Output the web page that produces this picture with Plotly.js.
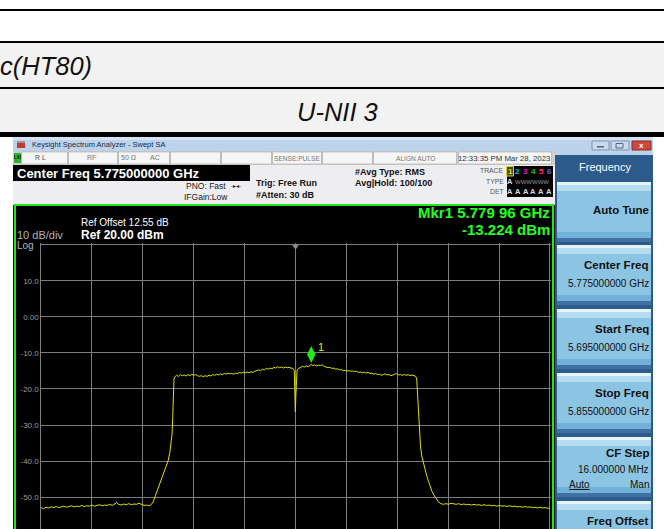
<!DOCTYPE html>
<html>
<head>
<meta charset="utf-8">
<script src="https://cdn.plot.ly/plotly-3.0.1.min.js"></script>
<style>html,body{margin:0;padding:0;background:#fff;}#chart{width:664px;height:529px;}</style>
</head>
<body>
<div id="chart"></div>
<script>
// ---------------- DATA ----------------
// trace samples: [frequency MHz, level dBm]
const traceSamples = [
[5695.0,-52.9],[5695.8,-53.2],[5696.6,-52.8],[5697.4,-53.0],[5698.2,-52.7],[5699.0,-52.9],[5699.8,-52.6],[5700.6,-52.9],
[5701.4,-52.7],[5702.2,-52.5],[5703.0,-52.8],[5703.8,-52.6],[5704.6,-52.4],[5705.4,-52.7],[5706.2,-52.5],[5707.0,-52.6],
[5707.8,-52.3],[5708.6,-52.6],[5709.4,-52.4],[5710.2,-52.5],[5711.0,-52.2],[5711.8,-52.5],[5712.6,-52.3],[5713.4,-52.1],
[5714.2,-52.4],[5715.0,-52.2],[5715.8,-52.3],[5716.6,-52.0],[5717.4,-52.3],[5718.2,-51.9],[5718.8,-51.5],[5719.4,-52.0],
[5720.2,-52.2],[5721.0,-51.9],[5721.8,-52.1],[5722.6,-51.8],[5723.4,-52.1],[5724.2,-51.9],[5725.0,-52.0],[5725.8,-51.7],
[5726.6,-52.1],[5727.4,-52.3],[5728.2,-52.2],[5729.0,-52.4],[5729.6,-52.1],
[5730.2,-51.4],[5730.8,-50.0],[5731.4,-48.6],[5732.0,-47.2],[5732.6,-45.8],[5733.2,-44.2],[5733.8,-42.6],[5734.4,-41.4],
[5735.0,-39.8],[5735.5,-37.6],[5735.9,-35.3],[5736.2,-32.5],[5736.4,-28.0],[5736.5,-24.0],[5736.6,-20.0],[5736.8,-17.2],[5737.1,-16.6],
[5737.6,-16.2],[5738.2,-16.5],[5738.8,-16.0],[5739.4,-16.3],[5740.0,-16.1],[5740.6,-16.4],[5741.2,-16.0],[5741.8,-16.3],
[5742.4,-15.9],[5743.0,-16.2],[5743.6,-16.0],[5744.2,-16.3],[5744.8,-16.5],[5745.4,-16.3],[5746.0,-16.6],[5746.6,-16.3],
[5747.2,-16.5],[5747.8,-16.2],[5748.4,-16.4],[5749.0,-16.0],[5749.6,-16.2],[5750.2,-15.9],[5750.8,-16.1],[5751.4,-15.8],
[5752.0,-16.0],[5752.6,-15.7],[5753.2,-15.9],[5753.8,-15.6],[5754.4,-15.8],[5755.0,-15.7],[5755.6,-15.9],[5756.2,-15.6],
[5756.8,-15.7],[5757.4,-15.4],[5758.0,-15.6],[5758.6,-15.3],[5759.2,-15.5],[5759.8,-15.3],[5760.4,-15.5],[5761.0,-15.2],
[5761.6,-15.4],[5762.2,-15.1],[5762.8,-15.0],[5763.4,-14.7],[5764.0,-14.9],[5764.6,-14.5],[5765.2,-14.7],[5765.8,-14.3],
[5766.4,-14.5],[5767.0,-14.2],[5767.6,-14.4],[5768.2,-14.0],[5768.8,-14.2],[5769.4,-13.8],[5770.0,-14.1],[5770.6,-13.9],
[5771.2,-14.2],[5771.8,-13.9],[5772.4,-14.1],[5773.0,-14.0],[5773.6,-14.2],[5774.2,-14.3],[5774.6,-14.8],[5774.8,-19.0],
[5774.95,-26.3],[5775.1,-22.0],[5775.25,-16.0],[5775.5,-14.7],
[5776.0,-14.3],[5776.6,-14.0],[5777.2,-13.7],[5777.8,-13.9],[5778.4,-13.6],[5779.0,-13.8],[5779.5,-13.4],[5779.96,-13.2],
[5780.5,-13.5],[5781.0,-13.3],[5781.6,-13.6],[5782.2,-13.4],[5782.8,-13.5],[5783.4,-13.3],[5784.0,-13.7],[5784.6,-13.9],
[5785.2,-14.1],[5785.8,-14.0],[5786.4,-14.3],[5787.0,-14.2],[5787.6,-14.5],[5788.2,-14.4],[5788.8,-14.7],[5789.4,-14.6],
[5790.0,-14.9],[5790.6,-14.8],[5791.2,-15.0],[5791.8,-14.9],[5792.4,-15.1],[5793.0,-15.0],[5793.6,-15.2],[5794.2,-15.1],
[5794.8,-15.4],[5795.4,-15.3],[5796.0,-15.5],[5796.6,-15.3],[5797.2,-15.6],[5797.8,-15.4],[5798.4,-15.7],[5799.0,-15.6],
[5799.6,-15.9],[5800.2,-15.7],[5800.8,-16.0],[5801.4,-15.9],[5802.0,-16.2],[5802.6,-16.0],[5803.2,-15.8],[5803.8,-16.1],
[5804.4,-16.0],[5805.0,-16.3],[5805.6,-16.2],[5806.2,-15.9],[5806.8,-15.7],[5807.4,-16.1],[5808.0,-16.0],[5808.6,-16.2],
[5809.2,-16.0],[5809.8,-16.2],[5810.4,-16.0],[5811.0,-16.3],[5811.6,-16.1],[5812.2,-16.4],[5812.8,-16.5],[5813.1,-17.2],
[5813.3,-20.5],[5813.5,-24.5],[5813.7,-28.5],[5813.9,-32.3],[5814.3,-36.0],[5814.7,-38.6],[5815.2,-40.6],[5815.7,-42.3],
[5816.2,-43.9],[5816.8,-45.6],[5817.3,-47.1],[5817.9,-48.4],[5818.5,-49.4],[5819.2,-50.5],[5819.9,-51.3],[5820.7,-51.8],[5821.5,-52.0],
[5822.3,-51.8],[5823.1,-52.0],[5823.9,-51.7],[5824.7,-51.9],[5825.5,-52.0],[5826.3,-51.8],[5827.1,-52.1],[5827.9,-51.9],
[5828.7,-52.1],[5829.5,-52.0],[5830.3,-52.2],[5831.1,-52.0],[5831.9,-52.2],[5832.7,-52.1],[5833.5,-52.3],[5834.3,-52.1],
[5835.1,-52.3],[5835.9,-52.2],[5836.7,-52.4],[5837.5,-52.3],[5838.3,-52.5],[5839.1,-52.3],[5839.9,-52.5],[5840.7,-52.4],
[5841.5,-52.6],[5842.3,-52.4],[5843.1,-52.6],[5843.9,-52.5],[5844.7,-52.7],[5845.5,-52.6],[5846.3,-52.8],[5847.1,-52.6],
[5847.9,-52.8],[5848.7,-52.7],[5849.5,-52.9],[5850.3,-52.8],[5851.1,-53.0],[5851.9,-52.8],[5852.7,-53.0],[5853.5,-52.9],
[5854.3,-53.1],[5855.0,-53.0]
];
const freqMHz = traceSamples.map(s => s[0]);
const powerDbm = traceSamples.map(s => s[1]);

const startMHz = 5695, stopMHz = 5855, centerMHz = 5775;
const xGridMHz = [5695,5711,5727,5743,5759,5775,5791,5807,5823,5839,5855];
const refLevel = 20;
const yTickVals = [20,10,0,-10,-20,-30,-40,-50];
const yTickText = ['','10.0','0.00','-10.0','-20.0','-30.0','-40.0','-50.0'];
const markerFreqMHz = 5779.96;
const markerLevel = -13.224;

// ---------------- LAYOUT HELPERS ----------------
const W = 664, H = 529;
const FONT = 'Liberation Sans, Arial, sans-serif';
const X = p => p / W;
const Y = p => 1 - p / H;
const shapes = [];
const anns = [];
function rect(x0, y0, x1, y1, fill, line, lw) {
  shapes.push({type:'rect', xref:'paper', yref:'paper', layer:'below',
    x0:X(x0), x1:X(x1), y0:Y(y1), y1:Y(y0),
    fillcolor:fill, line:{color:line || fill, width: lw || 0}});
}
function T(x, y, s, o) {
  o = o || {};
  anns.push({xref:'paper', yref:'paper', x:X(x), y:Y(y), text:s, showarrow:false,
    xanchor:o.a || 'left', yanchor:'middle', borderpad:0,
    font:{family:o.f || FONT, size:o.s || 8, color:o.c || '#000'}});
}

// ---------- document table above the screenshot ----------
rect(0, 42, 664, 88, '#f2f2f2');
rect(0, 88, 664, 133, '#f2f2f2');
rect(0, 9, 664, 11, '#000');
rect(0, 41, 664, 43, '#000');
rect(0, 87, 664, 89, '#000');
rect(0, 132, 664, 137, '#000');
T(-1, 66, '<i>c(HT80)</i>', {s:25.5, c:'#111'});
T(337, 112, '<i>U-NII 3</i>', {s:25.5, a:'center', c:'#111'});

// ---------- screenshot frame ----------
rect(13, 137, 653, 529, '#111');
// title bar
rect(13, 137, 653, 151, '#bcd3eb');
rect(13, 137, 653, 140, '#d4e3f3');
rect(17, 141, 25, 148, '#c43a2e');
rect(17, 141, 25, 143, '#9a9a9a');
T(31, 144.5, 'Keysight Spectrum Analyzer - Swept SA', {s:7.5, c:'#1b2b44'});
rect(592, 141, 609, 150, '#cbdaeb', '#7d93b3', 1);
rect(611, 141, 629, 150, '#cbdaeb', '#7d93b3', 1);
rect(632, 141, 651, 150, '#cc4b3f', '#8d2b22', 1);
rect(597, 146, 604, 147.5, '#55657d');
rect(616, 143.5, 623, 148, 'rgba(0,0,0,0)', '#55657d', 1);
T(641.5, 145.5, '<b>x</b>', {s:8, a:'center', c:'#fff'});

// status row
rect(13, 151, 555, 165, '#cfcfcf');
const cells = [[21,68],[68,118],[118,170],[170,221],[221,272],[272,322],[322,373],[373,457],[458,552]];
cells.forEach(c => rect(c[0] + 0.5, 152, c[1] - 0.5, 164, '#f5f5f5', '#a5a5a5', 0.6));
rect(14, 153, 21, 163, '#2fb02f');
T(17.5, 158, '<b>LXI</b>', {s:4.5, a:'center', c:'#111'});
T(40, 158, 'R L', {s:7, a:'center', c:'#555'});
T(91, 158, 'RF', {s:7, a:'center', c:'#777'});
T(128, 158, '50 Ω', {s:7, a:'center', c:'#777'});
T(155, 158, 'AC', {s:7, a:'center', c:'#777'});
T(297, 158.5, 'SENSE:PULSE', {s:6.6, a:'center', c:'#777'});
T(415, 158.5, 'ALIGN AUTO', {s:6.6, a:'center', c:'#777'});
T(504, 158.5, '12:33:35 PM Mar 28, 2023', {s:7.8, a:'center', c:'#333'});

// info area
rect(13, 165, 555, 205, '#eeeef1');
rect(13, 165, 250, 181, '#000');
T(16, 173.5, '<b>Center Freq 5.775000000 GHz</b>', {s:13, c:'#fff'});
T(185, 186.5, 'PNO: Fast', {s:8.5, c:'#222'});
T(236, 186, '-▸◂-', {s:6, a:'center', c:'#222'});
T(183, 196.5, 'IFGain:Low', {s:8.5, c:'#222'});
T(255, 182.5, '<b>Trig: Free Run</b>', {s:9, c:'#111'});
T(255, 194.5, '<b>#Atten: 30 dB</b>', {s:9, c:'#111'});
T(354, 171.5, '<b>#Avg Type: RMS</b>', {s:9, c:'#111'});
T(354, 182.5, '<b>Avg|Hold: 100/100</b>', {s:9, c:'#111'});
T(505, 170.5, 'TRACE', {s:6.8, a:'right', c:'#555'});
T(505, 181.5, 'TYPE', {s:6.8, a:'right', c:'#555'});
T(505, 191.5, 'DET', {s:6.8, a:'right', c:'#555'});
rect(507, 166, 553, 197, '#000');
rect(506.5, 166.5, 513.5, 176, '#444', '#d8d800', 1);
const traceColors = ['#e6e600','#00c8d8','#d020d0','#20c020','#ff3070','#6a5cff'];
traceColors.forEach((c, i) => {
  T(510 + i * 7.8, 171, '<b>' + (i + 1) + '</b>', {s:8, a:'center', c:c});
  T(510 + i * 7.8, 191.5, '<b>A</b>', {s:7.5, a:'center', c:'#ddd'});
});
T(510, 181.5, '<b>A</b>', {s:7.5, a:'center', c:'#ddd'});
T(514, 181.5, 'WWWWWW', {s:6, c:'#999'});

// measurement area (green frame)
rect(15, 205, 553, 545, '#000', '#1fe81f', 2);
T(551, 212.5, '<b>Mkr1 5.779 96 GHz</b>', {s:15, a:'right', c:'#22ff22'});
T(551, 230, '<b>-13.224 dBm</b>', {s:15, a:'right', c:'#22ff22'});
T(80, 222.5, 'Ref Offset 12.55 dB', {s:10, c:'#fff'});
T(80, 234.5, '<b>Ref 20.00 dBm</b>', {s:12, c:'#fff'});
T(16, 235.5, '10 dB/div', {s:11, c:'#b4b4b4'});
T(16, 245, 'Log', {s:10, c:'#b4b4b4'});

// softkey panel
rect(555, 151, 653, 529, '#2b5a8b');
rect(555, 151, 653, 155, '#bcd3eb');
T(605, 166.5, 'Frequency', {s:11, a:'center', c:'#fff'});
const keyTops = [182, 245, 309, 373, 437, 501];
keyTops.forEach(t => {
  rect(557, t, 651, t + 56, '#8bc5e3');
  rect(557, t, 651, t + 3, '#e4f3fa');
  rect(557, t + 3, 651, t + 9, '#b6dcef');
  rect(557, t + 50, 651, t + 56, '#72b2d9');
  rect(557, t + 56, 651, t + 60, '#3f72a3');
});
T(650, 209.5, '<b>Auto Tune</b>', {s:11.5, a:'right', c:'#111'});
T(650, 265, '<b>Center Freq</b>', {s:11.5, a:'right', c:'#111'});
T(650, 283, '5.775000000 GHz', {s:10, a:'right', c:'#111'});
T(650, 329, '<b>Start Freq</b>', {s:11.5, a:'right', c:'#111'});
T(650, 347, '5.695000000 GHz', {s:10, a:'right', c:'#111'});
T(650, 393, '<b>Stop Freq</b>', {s:11.5, a:'right', c:'#111'});
T(650, 411, '5.855000000 GHz', {s:10, a:'right', c:'#111'});
T(650, 453, '<b>CF Step</b>', {s:11.5, a:'right', c:'#111'});
T(650, 469, '16.000000 MHz', {s:10, a:'right', c:'#111'});
T(568, 484, '<u>Auto</u>', {s:10, c:'#111'});
T(650, 484, 'Man', {s:10, a:'right', c:'#111'});
T(650, 521, '<b>Freq Offset</b>', {s:11.5, a:'right', c:'#111'});

// ---------- data-anchored marks ----------
shapes.push({type:'path', xref:'x', yref:'y', xsizemode:'pixel', ysizemode:'pixel',
  xanchor:centerMHz, yanchor:refLevel, path:'M -3.5 0 L 3.5 0 L 0 -5 Z',
  fillcolor:'#8a8a8a', line:{width:0}});
shapes.push({type:'path', xref:'x', yref:'y', xsizemode:'pixel', ysizemode:'pixel',
  xanchor:markerFreqMHz, yanchor:markerLevel, path:'M 0 1.5 L 4.2 10 L 0 18.5 L -4.2 10 Z',
  fillcolor:'#1ee81e', line:{width:0}});
anns.push({xref:'x', yref:'y', x:markerFreqMHz, y:markerLevel, text:'1', showarrow:false,
  xanchor:'left', yanchor:'middle', xshift:5, yshift:18,
  font:{family:FONT, size:11, color:'#e8e800'}});

// ---------- plot ----------
// a small pad beyond the outer grid lines so the border lines are drawn
const pxPerDb = 3.605, pxPerMHz = 509 / 160;
const padDb = 0.4, padMHz = 0.4;
const topPx = 244.8 - padDb * pxPerDb;
const yBottom = refLevel - (529 - 244.8) / pxPerDb;
const data = [{
  type:'scatter', mode:'lines', x:freqMHz, y:powerDbm,
  line:{color:'#e0e000', width:1}, hoverinfo:'skip'
}];
const layout = {
  width:W, height:H, margin:{l:0, r:0, t:0, b:0}, showlegend:false,
  paper_bgcolor:'#ffffff', plot_bgcolor:'#000000',
  xaxis:{domain:[X(41 - padMHz * pxPerMHz), X(550 + padMHz * pxPerMHz)],
    range:[startMHz - padMHz, stopMHz + padMHz], tickmode:'array', tickvals:xGridMHz,
    showticklabels:false, ticks:'', showgrid:true, gridcolor:'#7c7c7c', gridwidth:1,
    zeroline:false, showline:false, fixedrange:true},
  yaxis:{domain:[0, Y(topPx)], range:[yBottom, refLevel + padDb], tickmode:'array', tickvals:yTickVals,
    ticktext:yTickText, ticks:'', showgrid:true, gridcolor:'#7c7c7c', gridwidth:1,
    zeroline:false, showline:false, fixedrange:true,
    tickfont:{family:FONT, size:8, color:'#9a9a9a'}},
  shapes:shapes, annotations:anns
};
Plotly.newPlot('chart', data, layout, {displayModeBar:false, staticPlot:true});
</script>
</body>
</html>
